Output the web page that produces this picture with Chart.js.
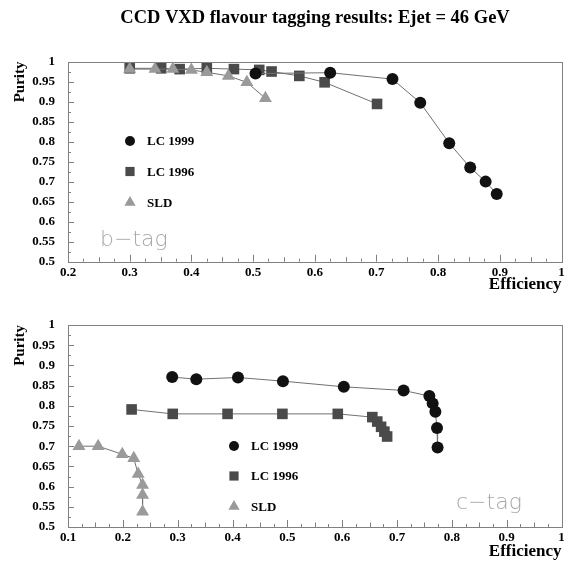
<!DOCTYPE html>
<html>
<head>
<meta charset="utf-8">
<script src="https://cdn.jsdelivr.net/npm/chart.js@4/dist/chart.umd.min.js"></script>
<style>
  body { margin: 0; background: #fff; }
  .panel { position: absolute; left: 0; width: 569px; }
  #topPanel { top: 0; height: 300px; }
  #botPanel { top: 300px; height: 262px; }
</style>
</head>
<body>
<div class="panel" id="topPanel"><canvas id="bChart"></canvas></div>
<div class="panel" id="botPanel"><canvas id="cChart"></canvas></div>
<script>
// b-tag panel
const bEffLC99 = [0.504, 0.625, 0.726, 0.771, 0.818, 0.852, 0.877, 0.895];
const bPurLC99 = [0.970, 0.972, 0.956, 0.897, 0.796, 0.735, 0.700, 0.669];
const bEffLC96 = [0.300, 0.351, 0.381, 0.425, 0.469, 0.510, 0.530, 0.575, 0.616, 0.701];
const bPurLC96 = [0.983, 0.983, 0.981, 0.983, 0.981, 0.979, 0.975, 0.964, 0.948, 0.894];
const bEffSLD  = [0.300, 0.341, 0.370, 0.400, 0.425, 0.460, 0.490, 0.520];
const bPurSLD  = [0.981, 0.981, 0.981, 0.979, 0.973, 0.964, 0.948, 0.908];

// c-tag panel
const cEffLC99 = [0.290, 0.334, 0.410, 0.492, 0.603, 0.712, 0.759, 0.765, 0.770, 0.773, 0.774];
const cPurLC99 = [0.871, 0.866, 0.870, 0.861, 0.847, 0.838, 0.824, 0.806, 0.785, 0.745, 0.697];
const cEffLC96 = [0.216, 0.291, 0.391, 0.491, 0.592, 0.655, 0.664, 0.671, 0.677, 0.682];
const cPurLC96 = [0.791, 0.780, 0.780, 0.780, 0.780, 0.772, 0.761, 0.748, 0.736, 0.724];
const cEffSLD  = [0.120, 0.155, 0.199, 0.220, 0.228, 0.236, 0.236, 0.236];
const cPurSLD  = [0.700, 0.700, 0.680, 0.670, 0.631, 0.604, 0.579, 0.538];

const seriesNames = ['LC 1999', 'LC 1996', 'SLD'];
const mainTitle = 'CCD VXD flavour tagging results: Ejet = 46 GeV';

const serif = "'Liberation Serif', 'Times New Roman', serif";
const styles = [
  { color: '#111111', shape: 'circle', radius: 6, legendRadius: 5, order: 0 },
  { color: '#4a4a4a', shape: 'rect', radius: 7.5, legendRadius: 6.5, order: 2 },
  { color: '#9a9a9a', shape: 'triangle', radius: 7.5, legendRadius: 6.5, order: 1 }
];

function pts(xs, ys) {
  return xs.map((x, i) => ({ x: x, y: ys[i] }));
}

function fmt(v) {
  return Number(v.toFixed(3)).toString();
}

function drawMarker(ctx, shape, x, y, r, color) {
  ctx.save();
  ctx.fillStyle = color;
  ctx.beginPath();
  if (shape === 'circle') {
    ctx.arc(x, y, r, 0, Math.PI * 2);
  } else if (shape === 'rect') {
    const s = r * Math.SQRT1_2;
    ctx.rect(x - s, y - s, 2 * s, 2 * s);
  } else {
    ctx.moveTo(x, y - r);
    ctx.lineTo(x + r * Math.sin(Math.PI / 3), y + r * 0.5);
    ctx.lineTo(x - r * Math.sin(Math.PI / 3), y + r * 0.5);
    ctx.closePath();
  }
  ctx.fill();
  ctx.restore();
}

// frame, inward ticks, legend and tag text
const decor = {
  id: 'decor',
  beforeDatasetsDraw(chart, args, opts) {
    const ctx = chart.ctx;
    const a = chart.chartArea;
    const xs = chart.scales.x, ys = chart.scales.y;
    ctx.save();
    ctx.strokeStyle = '#808080';
    ctx.lineWidth = 1;
    ctx.strokeRect(Math.round(a.left) + 0.5, Math.round(a.top) + 0.5,
      Math.round(a.right - a.left), Math.round(a.bottom - a.top));
    ctx.beginPath();
    const nx = Math.round((xs.max - xs.min) / 0.025);
    for (let i = 0; i <= nx; i++) {
      const v = xs.min + i * 0.025;
      const px = Math.round(xs.getPixelForValue(v)) + 0.5;
      const k = Math.round(v * 1000) % 100;
      const len = k === 0 ? 7 : (k === 50 ? 4.5 : 3);
      ctx.moveTo(px, a.bottom);
      ctx.lineTo(px, a.bottom - len);
    }
    const ny = Math.round((ys.max - ys.min) / 0.025);
    for (let i = 0; i <= ny; i++) {
      const v = ys.min + i * 0.025;
      const py = Math.round(ys.getPixelForValue(v)) + 0.5;
      const k = Math.round(v * 1000) % 50;
      const len = k === 0 ? 6 : 3;
      ctx.moveTo(a.left, py);
      ctx.lineTo(a.left + len, py);
    }
    ctx.stroke();
    ctx.restore();
  },
  afterDraw(chart, args, opts) {
    const ctx = chart.ctx;
    ctx.save();
    if (opts.title) {
      ctx.fillStyle = '#000';
      ctx.font = 'bold 18.5px ' + serif;
      ctx.textAlign = 'center';
      ctx.textBaseline = 'middle';
      ctx.fillText(opts.title, opts.titleX, opts.titleY);
    }
    opts.legendY.forEach((ly, i) => {
      const st = styles[i];
      drawMarker(ctx, st.shape, opts.legendX, ly, st.legendRadius, st.color);
      ctx.fillStyle = '#000';
      ctx.font = 'bold 13px ' + serif;
      ctx.textAlign = 'left';
      ctx.textBaseline = 'middle';
      ctx.fillText(seriesNames[i], opts.legendX + 17, ly + 1);
    });
    ctx.fillStyle = '#a8a8a8';
    ctx.font = "200 22px 'DejaVu Sans', sans-serif";
    ctx.textAlign = 'left';
    ctx.textBaseline = 'middle';
    ctx.fillText(opts.tag, opts.tagX, opts.tagY);
    ctx.restore();
  }
};

function makeDatasets(sets) {
  return sets.map((d, i) => ({
    label: seriesNames[i],
    data: d,
    showLine: true,
    borderColor: '#707070',
    borderWidth: 1,
    pointStyle: styles[i].shape,
    pointRadius: styles[i].radius,
    pointHoverRadius: styles[i].radius,
    pointBackgroundColor: styles[i].color,
    pointBorderColor: styles[i].color,
    pointBorderWidth: 0,
    order: styles[i].order,
    clip: false
  }));
}

function makeChart(canvasId, sets, xMin, pad, xTitlePad, decorOpts) {
  return new Chart(document.getElementById(canvasId), {
    type: 'scatter',
    data: { datasets: makeDatasets(sets) },
    options: {
      responsive: true,
      maintainAspectRatio: false,
      animation: false,
      layout: { padding: pad },
      plugins: {
        legend: { display: false },
        tooltip: { enabled: false },
        decor: decorOpts
      },
      scales: {
        x: {
          type: 'linear',
          min: xMin, max: 1,
          grid: { display: false, drawTicks: false },
          border: { display: false },
          afterFit: s => { s.height = pad.xh; },
          ticks: {
            stepSize: 0.1, autoSkip: false, maxRotation: 0, padding: 3,
            color: '#000', font: { family: serif, size: 13, weight: 'bold' },
            callback: v => fmt(v)
          },
          title: {
            display: true, text: 'Efficiency', align: 'end', color: '#000',
            font: { family: serif, size: 17, weight: 'bold' },
            padding: { top: 0, bottom: xTitlePad }
          }
        },
        y: {
          type: 'linear',
          min: 0.5, max: 1,
          grid: { display: false, drawTicks: false },
          border: { display: false },
          afterFit: s => { s.width = 68; },
          ticks: {
            stepSize: 0.05, autoSkip: false, padding: 13,
            color: '#000', font: { family: serif, size: 13, weight: 'bold' },
            callback: v => fmt(v)
          },
          title: {
            display: true, text: 'Purity', align: 'end', color: '#000',
            font: { family: serif, size: 15, weight: 'bold' },
            padding: { top: 11, bottom: 0 }
          }
        }
      }
    },
    plugins: [decor]
  });
}

makeChart('bChart',
  [pts(bEffLC99, bPurLC99), pts(bEffLC96, bPurLC96), pts(bEffSLD, bPurSLD)],
  0.2, { top: 61.5, left: 0, right: 4, bottom: 0, xh: 38.3 }, 5,
  { title: mainTitle, titleX: 315, titleY: 18.5,
    legendX: 130, legendY: [141, 171.5, 202.5],
    tag: 'b\u2212tag', tagX: 100, tagY: 240 });

makeChart('cChart',
  [pts(cEffLC99, cPurLC99), pts(cEffLC96, cPurLC96), pts(cEffSLD, cPurSLD)],
  0.1, { top: 25, left: 0, right: 4, bottom: 0, xh: 35 }, 0,
  { title: null,
    legendX: 234, legendY: [146, 176, 206.5],
    tag: 'c\u2212tag', tagX: 456, tagY: 203 });
</script>
</body>
</html>
